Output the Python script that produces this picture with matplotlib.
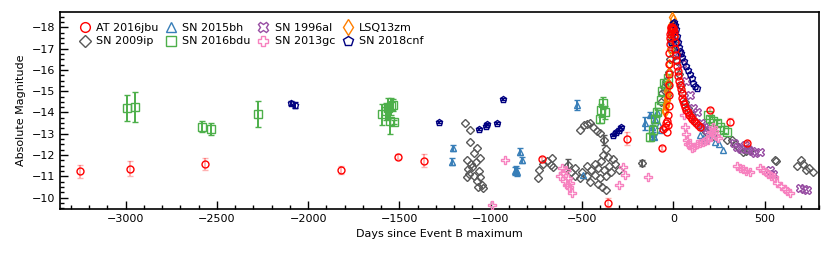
import numpy as np
import matplotlib
matplotlib.use('Agg')
import matplotlib.pyplot as plt
from matplotlib.ticker import MultipleLocator

#%% DATA #######################################################################
# days since Event B maximum, absolute magnitude, error (0 = no bar)

jbu_day = [-3247, -2974, -2563, -1818, -1510, -1367, -717, -356, -254, -60, -55,
           -45, -40, -36, -32, -29, -27, -26, -25, -24, -23, -22, -21, -20, -19,
           -17, -15, -13, -11, -9, -7, -5, -3, -1, 1, 3, 5, 8, 11, 14, 17, 20, 24,
           28, 32, 36, 40, 45, 50, 55, 60, 66, 72, 80, 88, 96, 105, 115, 125, 135,
           145, 203, 312, 404]
jbu_mag = [-11.24, -11.35, -11.58, -11.29, -11.93, -11.74, -11.83, -9.77, -12.76, -12.32, -13.21,
           -13.3, -13.5, -13.1, -13.6, -13.4, -13.9, -14.3, -14.8, -15.3, -15.8, -16.3, -16.8, -17.2, -17.5,
           -17.7, -17.85, -17.95, -18.0, -18.0, -17.95, -17.9, -17.9, -17.95, -17.9, -17.8, -17.6, -17.3, -17.0, -16.7, -16.45, -16.2, -15.95,
           -15.7, -15.5, -15.3, -15.1, -14.9, -14.7, -14.55, -14.4, -14.25, -14.1, -14.0, -13.9, -13.8, -13.7, -13.6, -13.5, -13.4,
           -13.3, -14.12, -13.57, -12.55]
jbu_err = [0.3, 0.35, 0.3, 0.2, 0.1, 0.3, 0.1, 0.2, 0.3, 0.1, 0.1] + [0] * 50 + [0.1, 0.15, 0.1]

ip_day = [-1139, -1112, -1115, -1075, -1090, -1057, -1130, -1110, -1080, -1125, -1100,
          -1065, -1120, -1090, -1060, -1130, -1075, -1050, -1070, -1045,
          -739, -735, -711, -690, -670, -664, -657,
          -575, -560, -540, -509, -490, -470, -455, -440, -420, -400, -380, -370, -385,
          -360, -395, -430, -470, -450, -410, -380, -350, -500, -470, -430, -400, -370,
          -340, -455, -410, -390, -370, -330, -320, -300, -510, -540, -170,
          -70, -60, -50, -45, -40, -35, -30, -25, -20, -15, -10, -5, 0, 5, 10, 15,
          20, 30, 40, 50, 65, 80, 100, 120, 150, 180, 220,
          295, 320, 340, 360, 383, 400, 420, 559, 565, 679, 700, 712, 725, 745, 767]
ip_mag = [-13.49, -13.18, -12.63, -12.32, -12.1, -11.86, -11.75, -11.6, -11.65, -11.35, -11.45,
          -11.25, -11.1, -11.0, -10.95, -10.95, -10.8, -10.6, -10.5, -10.45,
          -10.92, -11.3, -11.6, -11.7, -11.55, -11.86, -11.44,
          -11.53, -11.2, -11.4, -13.18, -13.4, -13.45, -13.5, -13.3, -13.15, -13.05, -12.7, -12.3, -12.0,
          -11.9, -11.7, -11.6, -11.5, -11.3, -11.4, -11.3, -11.5, -11.2, -11.0, -11.05, -10.9, -11.0,
          -11.2, -10.75, -10.65, -10.5, -10.35, -11.8, -11.6, -11.3, -10.9, -11.0, -11.64,
          -14.5, -14.9, -15.2, -15.0, -15.5, -14.8, -15.3, -15.9, -16.5, -17.0, -17.4, -17.7, -17.8, -17.6, -17.2, -16.8,
          -16.4, -15.8, -15.3, -14.9, -14.5, -14.2, -13.9, -13.6, -13.3, -13.1, -12.9,
          -12.7, -12.7, -12.5, -12.35, -12.15, -12.2, -12.25, -11.77, -11.72, -11.5, -11.75, -11.6, -11.3, -11.4, -11.2]
ip_err = [0] * 27 + [0.3] + [0] * 9 + [0.25] + [0] * 25 + [0.15] + [0] * 42

bh_day = [-1204, -1212, -860, -855, -865, -838, -829, -527, -492,
          -153, -125, -117, -112, -108, -100, -90, -80, -70,
          148, 160, 175, 190, 210, 230, 250, 274]
bh_mag = [-12.33, -11.69, -11.3, -11.2, -11.25, -12.16, -11.77, -14.35, -11.07,
          -13.5, -13.9, -13.3, -13.0, -12.85, -13.7, -14.0, -13.4, -13.2,
          -12.94, -12.8, -12.7, -12.85, -13.0, -12.6, -12.5, -12.24]
bh_err = [0.15, 0.15, 0.2, 0.2, 0.2, 0.15, 0.15, 0.25, 0,
          0.3, 0.1, 0.1, 0.1, 0.1, 0, 0, 0, 0,
          0, 0, 0, 0, 0, 0, 0, 0]

bdu_day = [-2992, -2946, -2581, -2532, -2274, -1595, -1575, -1560, -1545, -1535, -1550, -1530,
           -383, -395, -375, -400,
           -126, -110, -100, -90, -80, -70, -60, -50, -40, -30,
           190, 203, 220, 240, 257, 275, 295]
bdu_mag = [-14.2, -14.27, -13.33, -13.22, -13.93, -13.92, -14.05, -14.2, -14.3, -14.35, -13.6, -13.55,
           -14.45, -14.1, -14.0, -13.7,
           -12.85, -13.2, -13.7, -14.0, -14.3, -14.6, -15.0, -15.4, -15.3, -15.6,
           -13.9, -13.7, -13.6, -13.5, -13.3, -13.2, -13.1]
bdu_err = [0.6, 0.7, 0.25, 0.3, 0.6, 0.5, 0.4, 0.5, 0.4, 0.3, 0.6, 0.1,
           0.3, 0.3, 0.3, 0.2,
           0.2, 0.2, 0.2, 0.2, 0, 0, 0, 0, 0, 0,
           0, 0.15, 0, 0.15, 0, 0.15, 0]

al_day = [15, 30, 50, 70, 90, 110, 130, 150, 170, 185, 330, 350, 370, 390, 410, 430,
          450, 475, 530, 545, 695, 715, 733]
al_mag = [-17.3, -16.8, -16.3, -15.5, -14.8, -14.2, -14.0, -13.5, -13.3, -13.2, -12.55, -12.4,
          -12.3, -12.45, -12.3, -12.2, -12.1, -12.15, -11.3, -11.1, -10.45, -10.4, -10.35]

gc_day = [-993, -920, -620, -610, -602, -595, -590, -580, -575, -570, -565, -553,
          -273, -263, -300, -137,
          60, 66, 70, 75, 80, 90, 100, 115, 130, 145, 160, 175, 190, 200, 205, 215, 225,
          235, 245, 350, 365, 380, 400, 420, 475, 490, 505, 520, 535, 550, 570, 590,
          610, 625, 640]
gc_mag = [-9.66, -11.77, -11.0, -11.4, -11.16, -10.8, -11.3, -10.6, -10.9, -10.5, -10.7, -10.22,
          -11.44, -11.07, -10.6, -10.97,
          -13.9, -13.3, -13.0, -12.7, -12.5, -12.45, -12.35, -12.4, -12.5, -12.55, -12.6, -12.65,
          -12.7, -12.9, -13.1, -13.3, -13.15, -12.9, -12.8, -11.5, -11.4, -11.35, -11.25, -11.2,
          -11.4, -11.3, -11.2, -11.1, -11.0, -10.95, -10.7, -10.55, -10.4, -10.3, -10.2]

zm_day = [-48, -45, -42, -40, -37, -35, -32, -30, -27, -25, -22, -18, -14, -10, -5, 0, 5, 10]
zm_mag = [-14.1, -14.0, -14.4, -14.3, -14.7, -14.6, -15.0, -14.9, -15.4, -15.9, -16.3, -17.0,
          -17.6, -18.1, -18.5, -18.4, -18.1, -17.6]

cnf_day = [-2092, -2070, -1285, -1066, -1025, -1018, -966, -933, -330, -315, -300, -285,
           -10, -5, 0, 5, 10, 15, 20, 25, 30, 35, 40, 50, 60, 70, 80, 90, 100, 110, 120, 128]
cnf_mag = [-14.43, -14.35, -13.54, -13.21, -13.35, -13.45, -13.5, -14.63, -12.95, -13.1, -13.2, -13.3,
           -17.3, -17.9, -18.2, -18.25, -18.1, -17.9, -17.6, -17.3, -17.1, -16.9, -16.8, -16.6,
           -16.4, -16.2, -16.0, -15.8, -15.6, -15.4, -15.25, -15.15]
cnf_err = [0.1, 0.15, 0.05, 0.05, 0.05, 0.05, 0.05, 0.05, 0.05, 0.05, 0.05, 0.05] + [0] * 20

#%% PLOT #######################################################################

fig = plt.figure(figsize=(8.31, 2.56), dpi=100)
ax = fig.add_axes([0.072, 0.184, 0.914, 0.769])


def lc(day, mag, err, label, color, marker, ms, z, ecolor=None, ealpha=1.0):
    day = np.asarray(day, float)
    mag = np.asarray(mag, float)
    if err is not None:
        err = np.asarray(err, float)
        m = err > 0
        ax.errorbar(day[m], mag[m], yerr=err[m], fmt='none', ecolor=ecolor or color,
                    elinewidth=1.4, capsize=2, capthick=1, alpha=ealpha, zorder=z)
    ax.plot(day, mag, ls='none', marker=marker, ms=ms, mfc='none', mec=color,
            mew=1.0, label=label, zorder=z)


lc(jbu_day, jbu_mag, jbu_err, 'AT 2016jbu', 'red', 'o', 5, 10, ealpha=0.3)
lc(ip_day, ip_mag, ip_err, 'SN 2009ip', '#585858', 'D', 4.5, 3)
lc(bh_day, bh_mag, bh_err, 'SN 2015bh', '#377eb8', '^', 5, 4)
lc(bdu_day, bdu_mag, bdu_err, 'SN 2016bdu', '#4daf4a', 's', 5.5, 4)
lc(al_day, al_mag, None, 'SN 1996al', '#984ea3', 'X', 5.5, 5)
lc(gc_day, gc_mag, None, 'SN 2013gc', '#f781bf', 'P', 5.5, 5)
lc(zm_day, zm_mag, None, 'LSQ13zm', '#ff7f00', 'd', 5.5, 6)
lc(cnf_day, cnf_mag, cnf_err, 'SN 2018cnf', 'navy', 'p', 5, 7)

ax.set_xlim(-3360, 800)
ax.set_ylim(-9.47, -18.72)
ax.xaxis.set_major_locator(MultipleLocator(500))
ax.xaxis.set_minor_locator(MultipleLocator(100))
ax.yaxis.set_major_locator(MultipleLocator(1))
ax.yaxis.set_minor_locator(MultipleLocator(0.25))
ax.tick_params(which='both', direction='in', labelsize=8, width=1)
ax.tick_params(which='major', length=6)
ax.tick_params(which='minor', length=3)
for s in ax.spines.values():
    s.set_linewidth(1.2)

ax.set_xlabel('Days since Event B maximum', fontsize=8)
ax.set_ylabel('Absolute Magnitude', fontsize=8)

ax.legend(loc='upper left', bbox_to_anchor=(0.014, 0.985), ncol=4, frameon=False,
          fontsize=8, markerscale=1.4, handlelength=1.2, handletextpad=0.4,
          columnspacing=0.55, labelspacing=0.33, borderaxespad=0.3)

plt.savefig('out.png', dpi=100)
plt.close()
